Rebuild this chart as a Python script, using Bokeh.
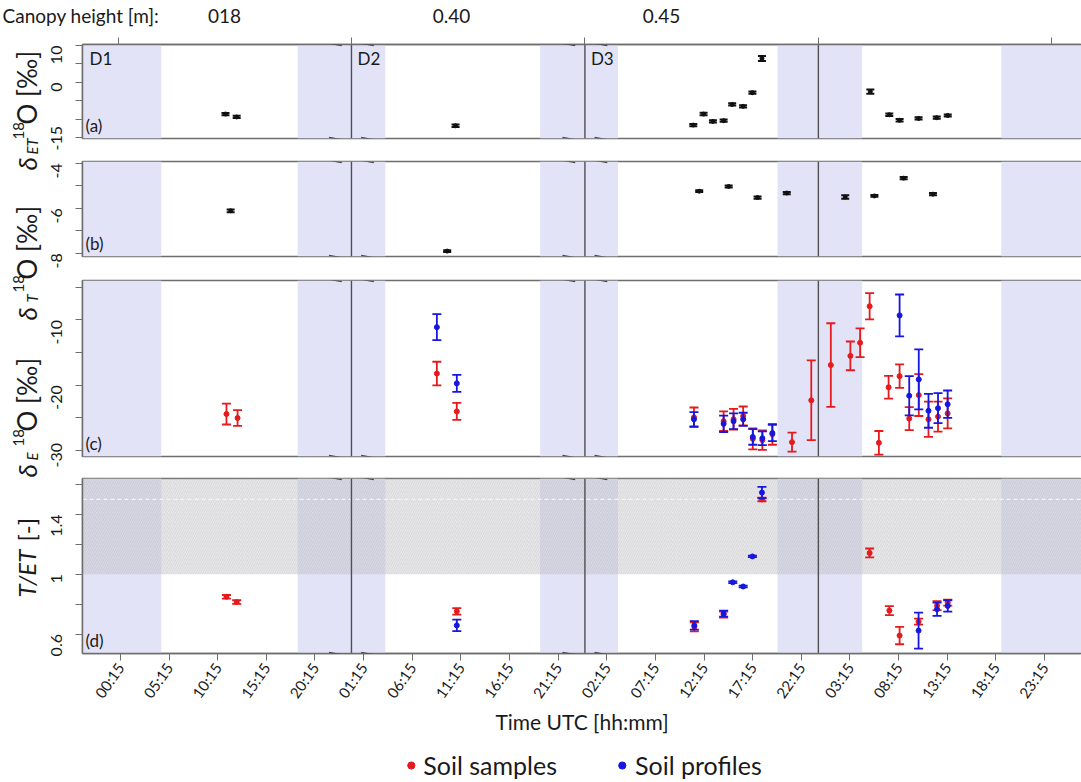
import math
from bokeh.plotting import figure
from bokeh.layouts import column, row
from bokeh.models import (ColumnDataSource, Range1d, LinearAxis, FixedTicker, Span,
                          BoxAnnotation, Label, Legend, LegendItem, Arrow)
from bokeh.embed import file_html
from bokeh.resources import INLINE
from bokeh.core.properties import value

FONT = "Lato"
RED = "#E41A1C"
BLUE = "#1616E0"
BLACK = "#111111"
NIGHT = "#E3E3F8"
FRAME = "#6E6E6E"
INK = "#1a1a1a"

# ---------------- data ----------------
canopy_heights = ["018", "0.40", "0.45"]
day_names = ["D1", "D2", "D3"]
axis_breaks = [24.0, 48.0]
midnight = [72.0]
night_start = [-3.65, 18.47, 43.4, 67.8, 90.8]
night_end = [4.45, 27.48, 51.4, 76.5, 99.05]

x_ticks = [0.25, 5.25, 10.25, 15.25, 20.25, 25.25, 30.25, 35.25, 40.25, 45.25,
           50.25, 55.25, 60.25, 65.25, 70.25, 75.25, 80.25, 85.25, 90.25, 95.25]
x_tick_labels = ["00:15", "05:15", "10:15", "15:15", "20:15", "01:15", "06:15", "11:15",
                 "16:15", "21:15", "02:15", "07:15", "12:15", "17:15", "22:15", "03:15",
                 "08:15", "13:15", "18:15", "23:15"]
day_ticks = [0, 24, 48, 72, 96]

# (a) evapotranspiration d18O
et_time = [11.05, 12.2, 34.7, 59.14, 60.2, 61.16, 62.26, 63.14, 64.26, 65.22, 66.2,
           77.34, 79.29, 80.35, 82.3, 84.17, 85.3]
et_d18o = [-8.6, -9.4, -11.8, -11.6, -8.6, -10.6, -10.4, -6.0, -6.5, -2.8, 6.5,
           -2.5, -8.8, -10.3, -9.8, -9.6, -9.0]
et_err = [0.3, 0.3, 0.35, 0.3, 0.35, 0.3, 0.3, 0.3, 0.3, 0.3, 0.7,
          0.6, 0.35, 0.35, 0.3, 0.3, 0.3]

# (b) transpiration d18O
tr_time = [11.58, 33.84, 59.75, 62.78, 65.75, 68.75, 74.76, 77.76, 80.77, 83.78]
tr_d18o = [-6.11, -7.9, -5.24, -5.03, -5.52, -5.32, -5.5, -5.45, -4.66, -5.37]
tr_err = [0.06, 0.04, 0.04, 0.04, 0.05, 0.05, 0.08, 0.04, 0.05, 0.05]

# (c) evaporation d18O, soil samples
ev_s_time = [11.15, 12.29, 32.78, 34.83, 59.21, 62.26, 63.28, 64.27, 65.26, 66.24, 67.27,
             69.29, 71.27, 73.28, 75.29, 76.29, 77.27, 78.22, 79.22, 80.35, 81.34, 82.32,
             83.32, 84.3, 85.29]
ev_s_d18o = [-24.4, -25.0, -18.2, -24.0, -24.9, -25.5, -25.2, -24.7, -28.2, -28.4, -27.5,
             -28.7, -22.3, -16.9, -15.5, -13.5, -7.9, -28.8, -20.3, -18.6, -25.1, -21.5,
             -25.2, -24.8, -24.3]
ev_s_err = [1.6, 1.2, 1.8, 1.3, 1.5, 1.5, 1.6, 1.45, 1.6, 1.5, 1.6,
            1.45, 6.1, 6.4, 2.2, 2.2, 2.0, 1.8, 1.75, 1.8, 1.75, 3.2,
            2.7, 2.3, 2.3]

# (c) evaporation d18O, soil profiles
ev_p_time = [32.78, 34.83, 59.21, 62.26, 63.28, 64.27, 65.26, 66.24, 67.27,
             80.35, 81.34, 82.32, 83.32, 84.3, 85.29]
ev_p_d18o = [-11.1, -19.7, -25.2, -25.9, -25.5, -25.2, -27.9, -28.1, -27.3,
             -9.3, -21.6, -19.1, -23.9, -23.5, -22.9]
ev_p_err = [2.0, 1.3, 1.1, 1.25, 1.2, 1.0, 1.2, 1.05, 1.25,
            3.2, 3.0, 4.6, 2.6, 2.3, 2.1]

# (d) T/ET, soil samples
te_s_time = [11.15, 12.2, 34.83, 59.25, 62.26, 66.2, 77.27, 79.3, 80.35, 82.3, 84.2, 85.3]
te_s_ratio = [0.849, 0.814, 0.752, 0.648, 0.73, 1.50, 1.142, 0.757, 0.59, 0.683, 0.79, 0.81]
te_s_err = [0.012, 0.012, 0.022, 0.03, 0.02, 0.012, 0.03, 0.03, 0.058, 0.02, 0.03, 0.02]

# (d) T/ET, soil profiles
te_p_time = [34.83, 59.25, 62.26, 63.2, 64.27, 65.22, 66.2, 82.3, 84.2, 85.3]
te_p_ratio = [0.658, 0.658, 0.737, 0.946, 0.918, 1.119, 1.546, 0.623, 0.766, 0.788]
te_p_err = [0.038, 0.029, 0.02, 0.006, 0.006, 0.005, 0.038, 0.12, 0.044, 0.038]

series_names = ["Soil samples", "Soil profiles"]

X0, X1 = -3.65, 99.05
x_range = Range1d(X0, X1)
PAGE_W, PAGE_H = 1081, 782
LAB_W = 42
PANEL_W = PAGE_W - LAB_W
LEFT = 37


def style_text(lbl, size, style="normal", color=INK):
    lbl.text_font = FONT
    lbl.text_font_size = size
    lbl.text_font_style = style
    lbl.text_color = color
    return lbl


def bare(p):
    p.outline_line_color = None
    p.grid.visible = False
    return p


def make_panel(height, yr, top, bottom, major, minor, labels):
    p = figure(width=PANEL_W, height=height, x_range=x_range, y_range=Range1d(*yr),
               x_axis_type=None, y_axis_type=None, output_backend="svg",
               toolbar_location=None, min_border_left=LEFT, min_border_right=0,
               min_border_top=top, min_border_bottom=bottom)
    p.outline_line_color = FRAME
    p.outline_line_width = 1.5
    ax = LinearAxis(ticker=FixedTicker(ticks=major, minor_ticks=minor),
                    major_label_overrides=labels,
                    major_label_orientation=math.pi / 2,
                    major_label_text_font=FONT, major_label_text_font_size="16px",
                    major_label_text_color=INK, major_label_standoff=19,
                    major_tick_out=7, major_tick_in=0, minor_tick_out=7, minor_tick_in=0,
                    axis_line_color=FRAME, major_tick_line_color=FRAME,
                    minor_tick_line_color=FRAME, axis_line_width=1.5)
    p.add_layout(ax, "left")
    for s, e in zip(night_start, night_end):
        p.add_layout(BoxAnnotation(left=s, right=e, fill_color=NIGHT, fill_alpha=1.0,
                                   line_color=None, level="underlay"))
    return p


def add_breaks(p, yr, frame_h):
    ppu = frame_h / (yr[1] - yr[0])
    for b in axis_breaks + midnight:
        p.add_layout(Span(location=b, dimension="height", line_color="#505050",
                          line_width=1.4, level="underlay"))
    for b in axis_breaks:
        for side in (-1, 1):
            for edge in (yr[1], yr[0]):
                p.add_layout(Arrow(x_start=b + side * 2.3, x_end=b + side * 1.0,
                                   y_start=edge - 1.2 / ppu * side,
                                   y_end=edge + 1.2 / ppu * side,
                                   end=None, line_color="#444444", line_width=1.2))


def draw_points(p, t, v, e, color, cap=9, lw=1.8, size=5):
    src = ColumnDataSource(dict(t=t, v=v,
                                lo=[a - b for a, b in zip(v, e)],
                                hi=[a + b for a, b in zip(v, e)]))
    p.segment("t", "lo", "t", "hi", source=src, line_color=color, line_width=lw)
    p.scatter("t", "lo", marker="dash", size=cap, line_color=color, line_width=lw, source=src)
    p.scatter("t", "hi", marker="dash", size=cap, line_color=color, line_width=lw, source=src)
    return p.scatter("t", "v", marker="circle", size=size, fill_color=color,
                     line_color=color, source=src)


def panel_letter(p, txt, yr):
    p.add_layout(style_text(Label(x=X0, y=yr[0], x_offset=3, y_offset=3, text=txt,
                                  text_baseline="bottom"), "17px"))


# ---- (a) ----
yr_a = (-15.25, 10.3)
pa = make_panel(120, yr_a, 14, 12, [10, 0, -15], [5, -5, -10],
                {10: "10", 0: "0", -15: "-15"})
top_ax = LinearAxis(ticker=FixedTicker(ticks=[], minor_ticks=day_ticks),
                    minor_tick_out=7, minor_tick_in=0, major_tick_out=0,
                    axis_line_color=FRAME, minor_tick_line_color=FRAME,
                    axis_line_width=1.5)
pa.add_layout(top_ax, "above")
add_breaks(pa, yr_a, 94)
draw_points(pa, et_time, et_d18o, et_err, BLACK, cap=8, lw=2, size=4)
for name, start, off in zip(day_names, [X0] + axis_breaks, [7, 6, 6]):
    pa.add_layout(style_text(Label(x=start, y=yr_a[1], x_offset=off, y_offset=-3,
                                   text=name, text_baseline="top"), "17px"))
panel_letter(pa, "(a)", yr_a)

# ---- (b) ----
yr_b = (-8.14, -3.92)
pb = make_panel(118, yr_b, 11, 12, [-4, -6, -8], [-5, -7],
                {-4: "-4", -6: "-6", -8: "-8"})
add_breaks(pb, yr_b, 95)
draw_points(pb, tr_time, tr_d18o, tr_err, BLACK, cap=8, lw=2, size=4)
panel_letter(pb, "(b)", yr_b)

# ---- (c) ----
yr_c = (-30.9, -3.96)
pc = make_panel(199, yr_c, 12, 11, [-10, -20, -30], [-5, -15, -25],
                {-10: "-10", -20: "-20", -30: "-30"})
add_breaks(pc, yr_c, 176)
draw_points(pc, ev_s_time, ev_s_d18o, ev_s_err, RED)
draw_points(pc, ev_p_time, ev_p_d18o, ev_p_err, BLUE)
panel_letter(pc, "(c)", yr_c)

# ---- (d) ----
yr_d = (0.47, 1.64)
pd_ = make_panel(281, yr_d, 11, 95, [0.6, 1.0, 1.4], [0.8, 1.2, 1.6],
                 {0.6: "0.6", 1.0: "1", 1.4: "1.4"})
pd_.add_layout(BoxAnnotation(bottom=1.0, fill_color="#CDCDD2", fill_alpha=0.4,
                             hatch_pattern="/", hatch_color="#9A9A9A", hatch_alpha=0.5,
                             hatch_scale=4.5, hatch_weight=0.6, line_color=None,
                             level="underlay"))
pd_.add_layout(Span(location=1.5, dimension="width", line_color="#F4F4F4",
                    line_width=1.2, line_dash="4 3", level="underlay"))
add_breaks(pd_, yr_d, 175)
draw_points(pd_, te_s_time, te_s_ratio, te_s_err, RED)
draw_points(pd_, te_p_time, te_p_ratio, te_p_err, BLUE)
panel_letter(pd_, "(d)", yr_d)

x_ax = LinearAxis(ticker=FixedTicker(ticks=x_ticks, minor_ticks=[]),
                  major_label_overrides=dict(zip(x_ticks, x_tick_labels)),
                  major_label_orientation=0.96, major_label_text_font=FONT,
                  major_label_text_font_size="15px", major_label_text_color=INK,
                  major_label_standoff=4, major_tick_out=7, major_tick_in=0,
                  axis_line_color=FRAME, major_tick_line_color=FRAME, axis_line_width=1.5,
                  axis_label="Time UTC [hh:mm]", axis_label_text_font=FONT,
                  axis_label_text_font_size="21px", axis_label_text_font_style="normal",
                  axis_label_text_color=INK, axis_label_standoff=0)
pd_.add_layout(x_ax, "below")

# ---- legend strip: the T/ET series again, drawn outside this strip's y range ----
leg = bare(figure(width=PANEL_W, height=34, x_range=Range1d(X0, X1), y_range=Range1d(5, 6),
                  x_axis_type=None, y_axis_type=None, output_backend="svg",
                  toolbar_location=None, min_border_left=LEFT, min_border_right=0,
                  min_border_top=0, min_border_bottom=0))
leg_red = leg.scatter(te_s_time, te_s_ratio, marker="circle", fill_color=RED, line_color=RED)
leg_blue = leg.scatter(te_p_time, te_p_ratio, marker="circle", fill_color=BLUE, line_color=BLUE)
legend = Legend(items=[LegendItem(label=series_names[0], renderers=[leg_red]),
                       LegendItem(label=series_names[1], renderers=[leg_blue])],
                orientation="horizontal", location="center",
                label_text_font=FONT, label_text_font_size="25px",
                label_text_color=INK, glyph_width=18, glyph_height=18,
                label_standoff=4, spacing=56, padding=0, margin=0,
                border_line_color=None, background_fill_alpha=0)
leg.add_layout(legend)

# ---- y-axis titles: rotated pieces with sub- and superscripts ----
lab = bare(figure(width=LAB_W, height=PAGE_H - 30, x_range=Range1d(0, LAB_W),
                  y_range=Range1d(0, PAGE_H - 30), x_axis_type=None, y_axis_type=None,
                  output_backend="svg", toolbar_location=None, min_border=0))

# (text, page y where the piece starts, page x of its centre line, size, style)
title_pieces = [
    ("O [\u2030]", 124, 26, "26px", "normal"), ("18", 139, 18, "15px", "normal"),
    ("ET", 154, 31, "15px", "italic"), ("\u03b4", 170, 26, "26px", "italic"),
    ("O [\u2030]", 279, 26, "26px", "normal"), ("18", 292, 18, "15px", "normal"),
    ("T", 302, 31, "15px", "italic"), ("\u03b4", 320, 26, "26px", "italic"),
    ("O [\u2030]", 431, 26, "26px", "normal"), ("18", 446, 18, "15px", "normal"),
    ("E", 460, 31, "15px", "italic"), ("\u03b4", 477, 26, "26px", "italic"),
    ("[-]", 541, 26, "24px", "normal"), ("T/ET", 597, 26, "24px", "italic"),
]
for txt, py, px, size, style in title_pieces:
    lab.text(x=[px], y=[PAGE_H - py], text=[txt], angle=math.pi / 2,
             text_align="left", text_baseline="middle",
             text_font=value(FONT), text_font_size=size, text_font_style=style,
             text_color=INK)

# ---- canopy heights row ----
top = bare(figure(width=PAGE_W, height=30, x_range=Range1d(0, PAGE_W), y_range=Range1d(0, 30),
                  x_axis_type=None, y_axis_type=None, output_backend="svg",
                  toolbar_location=None, min_border=0))
top.text(x=[2], y=[15], text=["Canopy height [m]:"], text_align="left",
         text_baseline="middle", text_font=value(FONT), text_font_size="19px",
         text_color=INK)
top.text(x=[224, 451, 661], y=[15, 15, 15], text=canopy_heights, text_align="center",
         text_baseline="middle", text_font=value(FONT), text_font_size="19px",
         text_color=INK)

layout = column(top,
                row(lab, column(pa, pb, pc, pd_, leg, spacing=0), spacing=0),
                spacing=0)

open("out.html", "w").write(file_html(layout, INLINE))
